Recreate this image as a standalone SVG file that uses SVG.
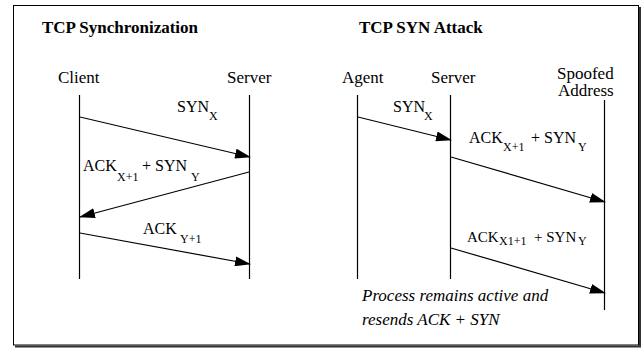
<svg xmlns="http://www.w3.org/2000/svg" width="643" height="348" viewBox="0 0 643 348" font-family="'Liberation Serif', 'Times New Roman', 'DejaVu Serif', serif">
<style>
text{font-family:'Liberation Serif','Times New Roman','DejaVu Serif',serif;fill:#000}
.t{font-size:17px;font-weight:bold}
.n{font-size:17px}
.l{font-size:16px}
.m{font-size:15px}
.s{font-size:12px}
.i{font-size:17px;font-style:italic}
.ll{stroke:#000;stroke-width:1.2;fill:none}
.ar{stroke:#000;stroke-width:1.2;fill:none;marker-end:url(#ah)}
</style>
<defs>
<marker id="ah" viewBox="0 0 16 10" refX="15" refY="5" markerWidth="16" markerHeight="10" markerUnits="userSpaceOnUse" orient="auto">
<path d="M0,0 L16,5 L0,10 z" fill="#000"/>
</marker>
</defs>
<rect x="0" y="0" width="643" height="348" fill="#fff"/>
<g id="frame">
<rect x="13.5" y="5.5" width="625" height="339.5" fill="none" stroke="#000" stroke-width="1"/>
<path d="M640,7 V346.5 H15" fill="none" stroke="#333" stroke-width="2"/>
</g>
<g id="titles">
<text class="t" x="42" y="33">TCP Synchronization</text>
<text class="t" x="359" y="33">TCP SYN Attack</text>
</g>
<g id="client"><text class="n" x="58" y="83">Client</text><line class="ll" x1="79.5" y1="95" x2="79.5" y2="279"/></g>
<g id="server1"><text class="n" x="227" y="83">Server</text><line class="ll" x1="249.5" y1="95" x2="249.5" y2="279"/></g>
<g id="agent"><text class="n" x="342" y="83">Agent</text><line class="ll" x1="357.5" y1="95" x2="357.5" y2="279"/></g>
<g id="server2"><text class="n" x="431" y="83">Server</text><line class="ll" x1="450.5" y1="95" x2="450.5" y2="279"/></g>
<g id="spoofed"><text class="n" x="557" y="79">Spoofed</text><text class="n" x="558" y="96">Address</text><line class="ll" x1="604.5" y1="100" x2="604.5" y2="310"/></g>
<g id="connectors">
<line class="ar" x1="80" y1="117" x2="250" y2="157"/>
<line class="ar" x1="249" y1="172" x2="80" y2="217"/>
<line class="ar" x1="80" y1="233" x2="250" y2="264"/>
<line class="ar" x1="358" y1="117" x2="451" y2="140"/>
<line class="ar" x1="451" y1="157" x2="605" y2="202"/>
<line class="ar" x1="451" y1="248" x2="605" y2="293"/>
</g>
<g id="labels">
<text class="l" x="177" y="112">SYN</text><text class="s" x="209" y="120">X</text>
<text class="l" x="83" y="171">ACK</text><text class="s" x="117" y="181">X+1</text><text class="l" x="142" y="171">+ SYN</text><text class="s" x="191" y="181">Y</text>
<text class="l" x="143" y="234">ACK</text><text class="s" x="180" y="243">Y+1</text>
<text class="l" x="393" y="112">SYN</text><text class="s" x="424" y="120">X</text>
<text class="l" x="469" y="143">ACK</text><text class="s" x="503" y="151">X+1</text><text class="l" x="531" y="143">+ SYN</text><text class="s" x="578" y="151">Y</text>
<text class="m" x="467" y="242">ACK</text><text class="s" x="499" y="245">X1+1</text><text class="m" x="534" y="242">+ SYN</text><text class="s" x="578" y="245">Y</text>
<text class="i" x="362" y="301">Process remains active and</text>
<text class="i" x="362" y="325">resends ACK + SYN</text>
</g>
</svg>
